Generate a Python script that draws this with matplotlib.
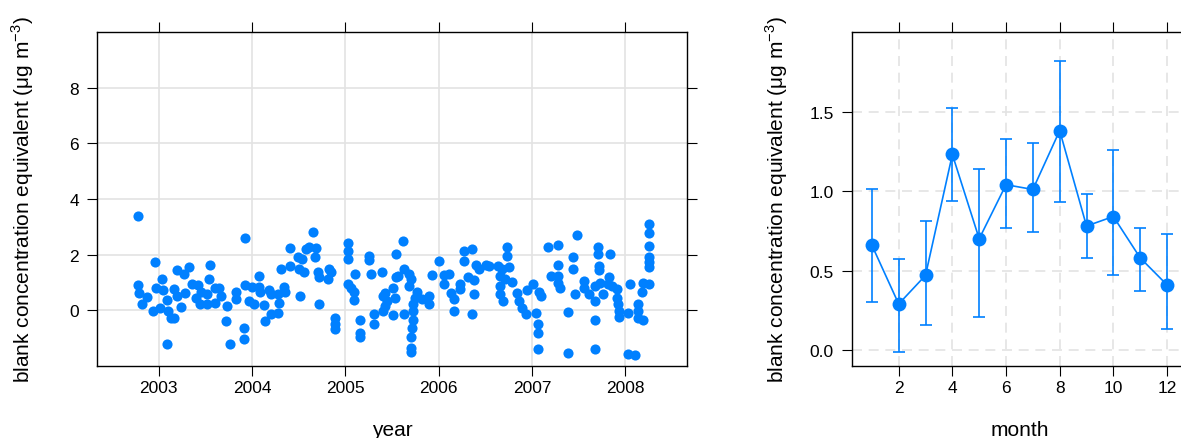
import matplotlib
matplotlib.use('Agg')
import matplotlib.pyplot as plt
import numpy as np

plt.rcParams['font.family'] = ['Liberation Sans', 'DejaVu Sans']
plt.rcParams['mathtext.fontset'] = 'custom'
plt.rcParams['mathtext.rm'] = 'Liberation Sans'

BLUE = '#0080ff'
GRID = '#e3e3e3'

# blank samples: decimal year and concentration equivalent
year = [2002.775, 2002.965, 2002.775, 2002.79, 2002.88, 2002.82, 2002.94, 2003.04, 2002.97, 2003.05,
        2003.09, 2003.02, 2003.10, 2003.13, 2003.17, 2003.09, 2003.20, 2003.27, 2003.33, 2003.17,
        2003.20, 2003.24, 2003.28, 2003.36, 2003.42, 2003.40, 2003.44, 2003.45, 2003.52, 2003.55,
        2003.54, 2003.52, 2003.60, 2003.60,
        2003.93, 2004.41, 2004.58, 2004.49, 2004.54, 2004.41, 2004.31, 2004.50, 2004.56, 2004.08,
        2003.93, 2004.00, 2004.08, 2004.09, 2004.18, 2004.20, 2004.34, 2004.35, 2004.28, 2004.52,
        2003.65, 2003.67, 2003.73, 2003.83, 2003.83, 2003.97, 2004.02, 2004.13, 2004.29, 2004.20,
        2004.28, 2004.14, 2003.72, 2003.92, 2003.92, 2003.77,
        2004.65, 2004.61, 2004.69, 2004.68, 2004.71, 2004.72, 2004.83, 2004.85, 2004.81, 2004.72,
        2004.89, 2004.89, 2004.89, 2005.03, 2005.03, 2005.03, 2005.10, 2005.03, 2005.06, 2005.09,
        2005.09, 2005.25, 2005.25, 2005.28, 2005.39, 2005.54, 2005.16, 2005.16, 2005.16, 2005.31,
        2005.31, 2005.40, 2005.43, 2005.45, 2005.40, 2005.43, 2005.51, 2005.53, 2005.54, 2005.51,
        2005.62, 2005.63, 2005.68, 2005.70, 2005.68, 2005.56, 2005.77, 2005.75, 2005.73, 2005.73,
        2005.82, 2005.90, 2005.90, 2005.63, 2005.73, 2005.71, 2005.70, 2005.70, 2005.70, 2006.00,
        2005.93, 2006.06, 2006.11, 2006.06, 2006.13, 2006.16, 2006.23, 2006.23, 2006.16, 2006.27,
        2006.36, 2006.27, 2006.31, 2006.38, 2006.40, 2006.43, 2006.51, 2006.38, 2006.36,
        2007.48, 2006.73, 2006.73, 2006.54, 2006.64, 2006.68, 2006.75, 2006.66, 2006.71, 2006.79,
        2006.66, 2006.66, 2006.69, 2006.84, 2006.86, 2006.89, 2006.94, 2006.95, 2007.01, 2007.07,
        2007.10, 2007.04, 2007.06, 2007.06, 2007.06, 2007.17, 2007.28, 2007.28, 2007.20, 2007.28,
        2007.28, 2007.30, 2007.46, 2007.39, 2007.39, 2007.44, 2007.44,
        2007.56, 2007.56, 2007.61, 2007.67, 2007.68, 2007.71, 2007.71, 2007.72, 2007.72, 2007.84,
        2007.73, 2007.76, 2007.81, 2007.83, 2007.86, 2007.91, 2007.91, 2007.92, 2007.93, 2007.93,
        2008.05, 2008.03, 2008.13, 2008.13, 2008.13, 2008.19, 2008.18, 2008.19, 2008.25, 2008.25,
        2008.25, 2008.25, 2008.25, 2008.25, 2008.25, 2007.67, 2007.67, 2008.03, 2008.10]

conc = [3.39, 1.72, 0.91, 0.64, 0.48, 0.22, -0.02, 1.12, 0.82, 0.73,
        0.36, 0.10, -0.02, -0.26, -0.29, -1.20, 1.44, 1.32, 1.56, 0.78,
        0.51, 0.12, 0.64, 0.96, 0.91, 0.46, 0.22, 0.67, 0.58, 1.62,
        1.12, 0.24, 0.28, 0.82,
        2.61, 2.23, 2.19, 1.90, 1.83, 1.59, 1.50, 1.47, 1.36, 1.23,
        0.90, 0.84, 0.84, 0.67, 0.72, 0.58, 0.84, 0.67, 0.58, 0.51,
        0.82, 0.51, 0.15, 0.67, 0.40, 0.33, 0.22, 0.19, 0.28, -0.12,
        -0.11, -0.38, -0.38, -0.62, -1.04, -1.20,
        2.82, 2.26, 2.23, 1.90, 1.36, 1.18, 1.47, 1.36, 1.12, 0.24,
        -0.26, -0.48, -0.68, 2.43, 2.13, 1.83, 1.29, 0.94, 0.82, 0.67,
        0.36, 1.95, 1.80, 1.32, 1.39, 2.04, -0.36, -0.80, -0.96, -0.14,
        -0.50, 0.51, 0.64, 0.33, -0.02, 0.15, 0.82, 0.46, 1.18, -0.18,
        2.49, 1.47, 1.29, 1.12, 0.87, 1.23, 0.67, 0.46, 0.22, -0.02,
        0.40, 0.51, 0.22, -0.14, -0.36, -0.65, -0.96, -1.37, -1.49, 1.77,
        1.27, 1.27, 1.29, 0.94, 0.64, 0.40, 0.94, 0.76, -0.02, 2.13,
        2.22, 1.77, 1.18, 1.08, 1.62, 1.47, 1.62, 0.60, -0.12,
        2.70, 2.26, 1.95, 1.59, 1.59, 1.47, 1.56, 1.23, 1.12, 1.03,
        0.87, 0.58, 0.33, 0.64, 0.33, 0.10, -0.14, 0.72, 0.94, 0.67,
        0.51, -0.08, -0.50, -0.80, -1.38, 2.26, 2.35, 1.62, 1.23, 1.23,
        1.00, 0.82, 0.60, -0.05, -1.52, 1.90, 1.47,
        1.06, 0.82, 0.58, 0.33, 0.87, 2.26, 2.01, 1.59, 1.44, 2.01,
        1.00, 0.58, 0.94, 1.20, 0.87, 0.76, 0.46, 0.22, -0.02, -0.24,
        0.94, -0.08, 0.22, -0.02, -0.26, -0.36, 0.67, 1.00, 0.94, 3.12,
        2.79, 2.31, 1.90, 1.72, 1.54, -0.36, -1.40, -1.58, -1.61]

# monthly means with confidence intervals
month = [1, 2, 3, 4, 5, 6, 7, 8, 9, 10, 11, 12]
mean = [0.66, 0.29, 0.47, 1.23, 0.70, 1.04, 1.01, 1.38, 0.78, 0.84, 0.58, 0.41]
lower = [0.30, -0.01, 0.16, 0.94, 0.21, 0.77, 0.74, 0.93, 0.58, 0.47, 0.37, 0.13]
upper = [1.01, 0.57, 0.81, 1.52, 1.14, 1.33, 1.30, 1.82, 0.98, 1.26, 0.77, 0.73]

ylab = 'blank concentration equivalent (μg m$^{-3}$)'

fig = plt.figure(figsize=(11.81, 4.39), dpi=100)
ax1 = fig.add_axes([0.0821, 0.164, 0.4996, 0.7608])
ax2 = fig.add_axes([0.7212, 0.164, 0.2840, 0.7608])

for ax in (ax1, ax2):
    ax.tick_params(direction='out', top=True, right=True, length=7, width=0.8,
                   labelsize=12.5, colors='black')
    ax.tick_params(axis='x', pad=3)
    ax.tick_params(axis='y', pad=6)
    for s in ax.spines.values():
        s.set_linewidth(1.0)
    ax.set_axisbelow(True)

# time series
ax1.plot(year, conc, 'o', color=BLUE, ms=7.3, mec='none')
ax1.set_xlim(2002.34, 2008.66)
ax1.set_ylim(-2, 10)
ax1.set_xticks([2003, 2004, 2005, 2006, 2007, 2008])
ax1.set_yticks([0, 2, 4, 6, 8])
ax1.grid(True, color=GRID, lw=1.2)
ax1.set_xlabel('year', fontsize=15, labelpad=18)
ax1.set_ylabel(ylab, fontsize=15, labelpad=24)

# monthly summary
m = np.array(mean)
err = [m - np.array(lower), np.array(upper) - m]
ax2.errorbar(month, mean, yerr=err, color=BLUE, lw=1.2, elinewidth=1.2,
             capsize=4.5, capthick=1.2, marker='o', ms=10, mec='none')
ax2.set_xlim(0.25, 12.75)
ax2.set_ylim(-0.1, 2.0)
ax2.set_xticks([2, 4, 6, 8, 10, 12])
ax2.set_yticks([0.0, 0.5, 1.0, 1.5])
ax2.grid(True, color=GRID, lw=1.2, ls=(0, (6, 4)))
ax2.set_xlabel('month', fontsize=15, labelpad=18)
ax2.set_ylabel(ylab, fontsize=15, labelpad=14)

fig.savefig('out.png', dpi=100)
